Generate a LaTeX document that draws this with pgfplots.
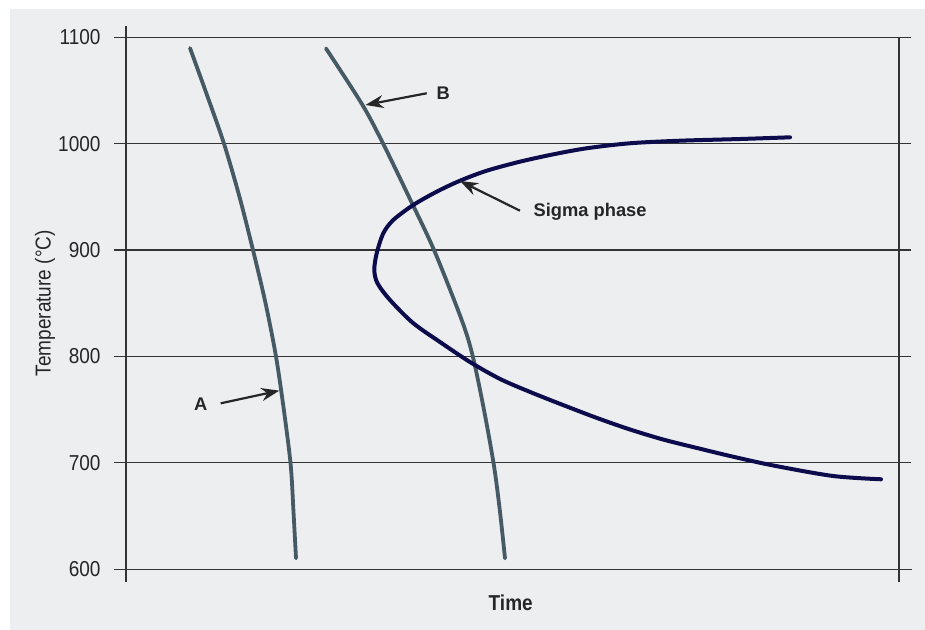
\documentclass[border=0pt]{standalone}
\usepackage{pgfplots}
\pgfplotsset{compat=1.18}
\usetikzlibrary{arrows.meta}
\usepackage{fontspec}
\setmainfont{Liberation Sans}
\newfontfamily\condfont{Liberation Sans}[FakeStretch=0.88]
\definecolor{bg}{HTML}{EDEEF0}
\definecolor{gridc}{HTML}{333333}
\definecolor{slate}{HTML}{455A64}
\definecolor{navy}{HTML}{0C0B4C}
\definecolor{txt}{HTML}{262626}
\begin{document}
\begin{tikzpicture}
\useasboundingbox (-63pt,-30.35pt) rectangle (399.5pt,284.65pt);
\fill[bg] (-58pt,-30.35pt) rectangle (399.5pt,280.15pt);
\begin{axis}[
  scale only axis,
  width=386.5pt, height=266pt,
  at={(0,0)}, anchor=south west,
  xmin=126, xmax=899, ymin=600, ymax=1100,
  clip=false,
  axis line style={draw=none},
  xtick=\empty,
  ytick={600,700,800,900,1000,1100},
  ymajorgrids,
  grid style={gridc, line width=0.6pt},
  tick align=outside,
  major tick length=6pt,
  tick style={gridc, line width=0.6pt},
  /pgf/number format/assume math mode=true,
  /pgf/number format/1000 sep={},
  yticklabel style={font=\condfont\fontsize{10.8}{13}\selectfont, text=txt, xshift=-3.2pt},
  ylabel={Temperature (°C)},
  ylabel style={font=\condfont\fontsize{10.8}{13}\selectfont, text=txt, at={(axis description cs:-0.1048,0.5)}, anchor=center},
  xlabel={\bfseries Time},
  xlabel style={font=\condfont\fontsize{10.8}{13}\selectfont, text=txt, at={(axis description cs:0.4977,-0.0628)}, anchor=center},
]
% frame
\draw[gridc, line width=0.6pt] (axis cs:126,1110.6) -- (axis cs:126,588.3);
\draw[gridc, line width=0.6pt] (axis cs:899,1100) -- (axis cs:899,588.3);
\draw[gridc, line width=0.6pt] (axis cs:126,600) -- (axis cs:912,600);
\draw[gridc, line width=0.6pt] (axis cs:126,1100) -- (axis cs:899,1100);

% curve A
\addplot[slate, line width=1.9pt, smooth, line cap=round] coordinates {
 (190,1089.9) (207,1045.7) (224,1000) (239.5,950) (253,900) (265.5,850.3)
 (276,800) (284,748.8) (290.7,698) (293.5,653.9) (296,610.3)
};
% curve B
\addplot[slate, line width=1.9pt, smooth, line cap=round] coordinates {
 (326,1089.5) (362.5,1036.4) (383.3,999.7) (409,949.9) (434,900.1) (461.7,834.3)
 (472.7,800.5) (484,749.7) (494,697.1) (500,654) (505,610.3)
};
% sigma phase
\addplot[navy, line width=2pt, smooth, line cap=round] coordinates {
 (790,1006.0) (740,1004.4) (680,1002.8) (630,1000.4) (586.7,995.7) (553.3,990.0)
 (520,983.1) (486.7,974.6) (460,965.2) (436.7,954.9) (413.3,942.4) (393.3,928.3)
 (383.3,915.8) (376.7,897.0)
 (374.3,881.3) (377.5,868.8) (390,853.1) (413,831.5) (440,813.6) (470,794.8)
 (500,778.9) (530,766.7) (563,754.4) (597,742.2) (630,731.4) (663,722.0)
 (697,714.0) (730,706.5) (773,697.6) (833,687.7) (881,684.6)
};

% annotations
\draw[txt, line width=1.1pt, -{Stealth[length=9pt,width=6.5pt]}] (axis cs:426.7,1047.4) -- (axis cs:365.5,1036.4);
\node[txt, font=\bfseries\fontsize{9.15}{11}\selectfont, inner sep=0pt] at (axis cs:443.3,1047.4) {B};
\draw[txt, line width=1.1pt, -{Stealth[length=9pt,width=6.5pt]}] (axis cs:220.7,756.0) -- (axis cs:279.3,767.9);
\node[txt, font=\bfseries\fontsize{9.15}{11}\selectfont, inner sep=0pt] at (axis cs:200.8,755.3) {A};
\draw[txt, line width=1.1pt, -{Stealth[length=9pt,width=6.5pt]}] (axis cs:520,937.0) -- (axis cs:460,964.9);
\node[txt, font=\bfseries\fontsize{9.15}{11}\selectfont, inner sep=0pt, anchor=west] at (axis cs:533.3,936.1) {Sigma phase};
\end{axis}
\end{tikzpicture}
\end{document}
